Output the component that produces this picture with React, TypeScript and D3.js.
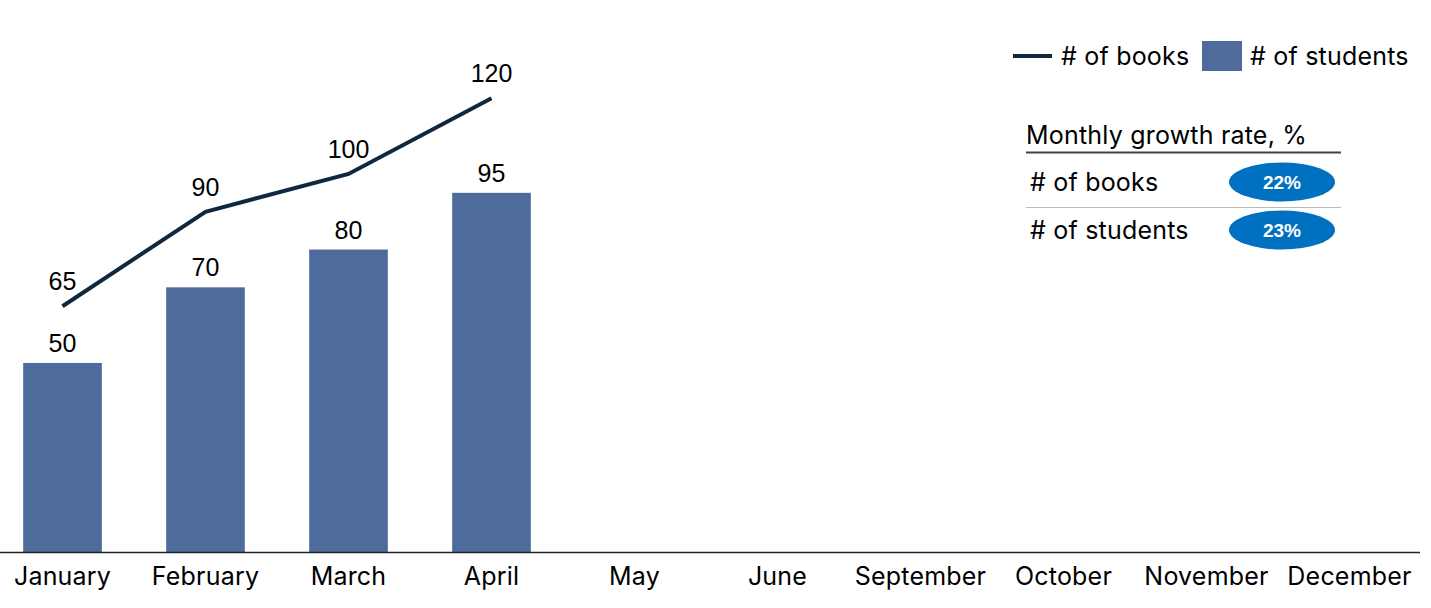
import React from "react";
import * as d3 from "d3";

const months = ["January", "February", "March", "April", "May", "June", "September", "October", "November", "December"];
const students = [50, 70, 80, 95];
const books = [65, 90, 100, 120];
const growthLabels = ["# of books", "# of students"];
const growthValues = ["22%", "23%"];

const W = 1431;
const H = 608;
const LABEL_FONT = "Inter, 'Open Sans', sans-serif";
const NUM_FONT = "'Liberation Sans', Arial, sans-serif";
const LS = 0.2;

export default function App() {
  const x = d3.scaleBand<string>().domain(months).range([-9, 1421]).paddingInner(0.45).paddingOuter(0.225);
  const y = d3.scaleLinear().domain([0, 146]).range([552, 0]);
  const cx = (m: string) => (x(m) as number) + x.bandwidth() / 2;
  const line = d3
    .line<number>()
    .x((_, i) => cx(months[i]))
    .y((d) => y(d));

  return (
    <svg width={W} height={H} style={{ position: "absolute", left: 0, top: 0, background: "#fff" }}>
      {students.map((v, i) => (
        <rect key={i} x={x(months[i])} y={y(v)} width={x.bandwidth()} height={y(0) - y(v)} fill="#4D6B9B" />
      ))}
      <line x1={0} x2={1420} y1={552.5} y2={552.5} stroke="#222" strokeWidth={1.5} />
      <path d={line(books) || ""} fill="none" stroke="#10283F" strokeWidth={4} />
      {students.map((v, i) => (
        <text key={"s" + i} x={cx(months[i])} y={y(v) - 11} textAnchor="middle" fontFamily={NUM_FONT} fontSize={25} fill="#000">
          {v}
        </text>
      ))}
      {books.map((v, i) => (
        <text key={"b" + i} x={cx(months[i])} y={y(v) - 16} textAnchor="middle" fontFamily={NUM_FONT} fontSize={25} fill="#000">
          {v}
        </text>
      ))}
      {months.map((m) => (
        <text key={m} x={cx(m)} y={585} textAnchor="middle" fontFamily={LABEL_FONT} fontSize={25} letterSpacing={LS} fill="#000">
          {m}
        </text>
      ))}
      {/* legend */}
      <line x1={1013} x2={1052} y1={56} y2={56} stroke="#10283F" strokeWidth={4} />
      <text x={1061} y={65} fontFamily={LABEL_FONT} fontSize={25} letterSpacing={LS} fill="#000">
        # of books
      </text>
      <rect x={1202} y={41} width={40} height={30} fill="#4D6B9B" />
      <text x={1250} y={65} fontFamily={LABEL_FONT} fontSize={25} letterSpacing={LS} fill="#000">
        # of students
      </text>
      {/* growth table */}
      <text x={1026} y={144} fontFamily={LABEL_FONT} fontSize={25} letterSpacing={LS} fill="#000">
        Monthly growth rate, %
      </text>
      <line x1={1026} x2={1341} y1={152.5} y2={152.5} stroke="#444" strokeWidth={2} />
      <line x1={1026} x2={1341} y1={207.5} y2={207.5} stroke="#bbb" strokeWidth={1} />
      {growthLabels.map((g, i) => (
        <g key={g}>
          <text x={1030} y={191 + i * 48} fontFamily={LABEL_FONT} fontSize={25} letterSpacing={LS} fill="#000">
            {g}
          </text>
          <ellipse cx={1282} cy={182 + i * 48} rx={53} ry={19.5} fill="#0070C0" />
          <text x={1282} y={189 + i * 48} textAnchor="middle" fontFamily={NUM_FONT} fontWeight="bold" fontSize={19} fill="#fff">
            {growthValues[i]}
          </text>
        </g>
      ))}
    </svg>
  );
}
